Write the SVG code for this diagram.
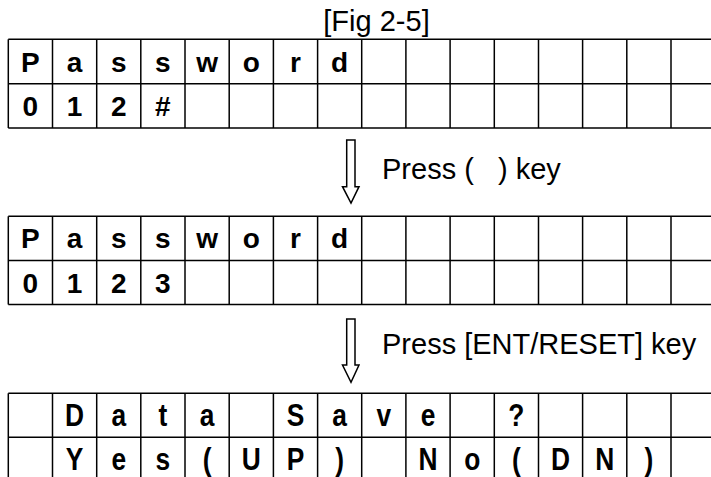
<svg xmlns="http://www.w3.org/2000/svg" width="711" height="477" viewBox="0 0 711 477">
<style>
.g line{stroke:#000;stroke-width:1.5}
.c{font-family:"Liberation Sans",Arial,sans-serif;font-weight:bold;font-size:28px;text-anchor:middle;fill:#000}
.c3{font-family:"Liberation Sans",Arial,sans-serif;font-weight:bold;font-size:31px;text-anchor:middle;fill:#000}
.t{font-family:"Liberation Sans",Arial,sans-serif;font-size:29px;fill:#000}
.arr{fill:#fff;stroke:#000;stroke-width:1.5;stroke-linejoin:miter}
</style>
<rect width="711" height="477" fill="#fff"/>
<text id="title" class="t" x="376.5" y="31" text-anchor="middle">[Fig 2-5]</text>

<g id="lcd1" class="g">
<line x1="8.3" y1="39.3" x2="711" y2="39.3"/><line x1="8.3" y1="83.8" x2="711" y2="83.8"/><line x1="8.3" y1="128" x2="711" y2="128"/>
<line x1="8.3" y1="39.3" x2="8.3" y2="128"/><line x1="52.5" y1="39.3" x2="52.5" y2="128"/><line x1="96.7" y1="39.3" x2="96.7" y2="128"/><line x1="140.8" y1="39.3" x2="140.8" y2="128"/><line x1="185" y1="39.3" x2="185" y2="128"/><line x1="229.2" y1="39.3" x2="229.2" y2="128"/><line x1="273.4" y1="39.3" x2="273.4" y2="128"/><line x1="317.6" y1="39.3" x2="317.6" y2="128"/><line x1="361.7" y1="39.3" x2="361.7" y2="128"/><line x1="405.9" y1="39.3" x2="405.9" y2="128"/><line x1="450.1" y1="39.3" x2="450.1" y2="128"/><line x1="494.3" y1="39.3" x2="494.3" y2="128"/><line x1="538.5" y1="39.3" x2="538.5" y2="128"/><line x1="582.6" y1="39.3" x2="582.6" y2="128"/><line x1="626.8" y1="39.3" x2="626.8" y2="128"/><line x1="671" y1="39.3" x2="671" y2="128"/>
<text class="c" x="30.4" y="71.5">P</text><text class="c" x="74.6" y="71.5">a</text><text class="c" x="118.8" y="71.5">s</text><text class="c" x="162.9" y="71.5">s</text><text class="c" x="207.1" y="71.5">w</text><text class="c" x="251.3" y="71.5">o</text><text class="c" x="295.5" y="71.5">r</text><text class="c" x="339.6" y="71.5">d</text>
<text class="c" x="30.4" y="116">0</text><text class="c" x="74.6" y="116">1</text><text class="c" x="118.8" y="116">2</text><text class="c" x="162.9" y="116">#</text>
</g>

<g id="lcd2" class="g">
<line x1="8.3" y1="216.3" x2="711" y2="216.3"/><line x1="8.3" y1="260.5" x2="711" y2="260.5"/><line x1="8.3" y1="304.5" x2="711" y2="304.5"/>
<line x1="8.3" y1="216.3" x2="8.3" y2="304.5"/><line x1="52.5" y1="216.3" x2="52.5" y2="304.5"/><line x1="96.7" y1="216.3" x2="96.7" y2="304.5"/><line x1="140.8" y1="216.3" x2="140.8" y2="304.5"/><line x1="185" y1="216.3" x2="185" y2="304.5"/><line x1="229.2" y1="216.3" x2="229.2" y2="304.5"/><line x1="273.4" y1="216.3" x2="273.4" y2="304.5"/><line x1="317.6" y1="216.3" x2="317.6" y2="304.5"/><line x1="361.7" y1="216.3" x2="361.7" y2="304.5"/><line x1="405.9" y1="216.3" x2="405.9" y2="304.5"/><line x1="450.1" y1="216.3" x2="450.1" y2="304.5"/><line x1="494.3" y1="216.3" x2="494.3" y2="304.5"/><line x1="538.5" y1="216.3" x2="538.5" y2="304.5"/><line x1="582.6" y1="216.3" x2="582.6" y2="304.5"/><line x1="626.8" y1="216.3" x2="626.8" y2="304.5"/><line x1="671" y1="216.3" x2="671" y2="304.5"/>
<text class="c" x="30.4" y="248.4">P</text><text class="c" x="74.6" y="248.4">a</text><text class="c" x="118.8" y="248.4">s</text><text class="c" x="162.9" y="248.4">s</text><text class="c" x="207.1" y="248.4">w</text><text class="c" x="251.3" y="248.4">o</text><text class="c" x="295.5" y="248.4">r</text><text class="c" x="339.6" y="248.4">d</text>
<text class="c" x="30.4" y="292.5">0</text><text class="c" x="74.6" y="292.5">1</text><text class="c" x="118.8" y="292.5">2</text><text class="c" x="162.9" y="292.5">3</text>
</g>

<g id="lcd3" class="g">
<line x1="8.3" y1="393.3" x2="711" y2="393.3"/><line x1="8.3" y1="437.3" x2="711" y2="437.3"/>
<line x1="8.3" y1="393.3" x2="8.3" y2="477"/><line x1="52.5" y1="393.3" x2="52.5" y2="477"/><line x1="96.7" y1="393.3" x2="96.7" y2="477"/><line x1="140.8" y1="393.3" x2="140.8" y2="477"/><line x1="185" y1="393.3" x2="185" y2="477"/><line x1="229.2" y1="393.3" x2="229.2" y2="477"/><line x1="273.4" y1="393.3" x2="273.4" y2="477"/><line x1="317.6" y1="393.3" x2="317.6" y2="477"/><line x1="361.7" y1="393.3" x2="361.7" y2="477"/><line x1="405.9" y1="393.3" x2="405.9" y2="477"/><line x1="450.1" y1="393.3" x2="450.1" y2="477"/><line x1="494.3" y1="393.3" x2="494.3" y2="477"/><line x1="538.5" y1="393.3" x2="538.5" y2="477"/><line x1="582.6" y1="393.3" x2="582.6" y2="477"/><line x1="626.8" y1="393.3" x2="626.8" y2="477"/><line x1="671" y1="393.3" x2="671" y2="477"/>
<g transform="scale(0.85,1)">
<text class="c3" x="87.76" y="426.4">D</text><text class="c3" x="139.76" y="426.4">a</text><text class="c3" x="191.65" y="426.4">t</text><text class="c3" x="243.65" y="426.4">a</text><text class="c3" x="347.65" y="426.4">S</text><text class="c3" x="399.53" y="426.4">a</text><text class="c3" x="451.53" y="426.4">v</text><text class="c3" x="503.53" y="426.4">e</text><text class="c3" x="607.53" y="426.4">?</text>
<text class="c3" x="87.76" y="470">Y</text><text class="c3" x="139.76" y="470">e</text><text class="c3" x="191.65" y="470">s</text><text class="c3" x="243.65" y="470">(</text><text class="c3" x="295.65" y="470">U</text><text class="c3" x="347.65" y="470">P</text><text class="c3" x="399.53" y="470">)</text><text class="c3" x="503.53" y="470">N</text><text class="c3" x="555.53" y="470">o</text><text class="c3" x="607.53" y="470">(</text><text class="c3" x="659.53" y="470">D</text><text class="c3" x="711.41" y="470">N</text><text class="c3" x="763.41" y="470">)</text>
</g>
</g>

<g id="connectors">
<path class="arr" d="M346.7,140 L355,140 L355,186.7 L359,186.7 L351,203 L342.5,186.7 L346.7,186.7 Z"/>
<path class="arr" d="M346.7,319 L355,319 L355,365 L359,365 L351,382.3 L342.5,365 L346.7,365 Z"/>
</g>
<text id="label1" class="t" x="382" y="179" xml:space="preserve">Press (   ) key</text>
<text id="label2" class="t" x="382" y="354">Press [ENT/RESET] key</text>
</svg>
